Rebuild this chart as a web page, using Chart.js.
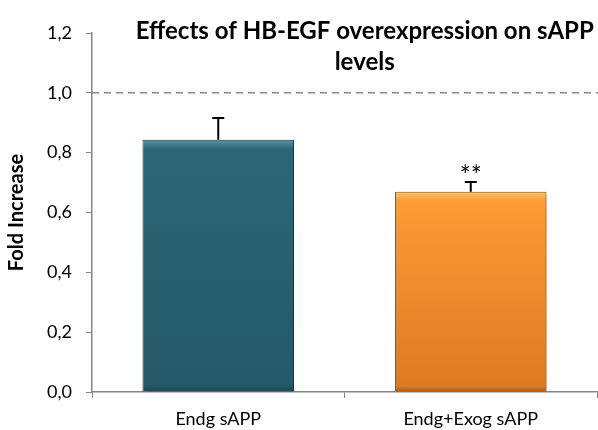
<!DOCTYPE html>
<html>
<head>
<meta charset="utf-8">
<script src="https://cdn.jsdelivr.net/npm/chart.js@4.4.1/dist/chart.umd.min.js"></script>
<style>
  html, body { margin: 0; padding: 0; background: #fff; }
  #wrap { width: 598px; height: 430px; position: relative; }
</style>
</head>
<body>
<div id="wrap"><canvas id="hbegfChart" width="598" height="430"></canvas></div>
<script>
// data
const categories = ['Endg sAPP', 'Endg+Exog sAPP'];
const foldIncrease = [0.843, 0.669];
const errorUp = [0.073, 0.033];
const significance = ['', '**'];
const yTicks = [0, 0.2, 0.4, 0.6, 0.8, 1.0, 1.2];
const referenceLevel = 1.0;
const titleLines = ['Effects of HB-EGF overexpression on sAPP', 'levels'];

const FONT = 'Lato, "Open Sans", sans-serif';

// bar palettes: [bevel top, body top, body bottom, border]
const palettes = [
  ['#5b95a4', '#2c6676', '#245a6a', '#1d4654'],
  ['#ffc46a', '#fd9b35', '#df7a24', '#a85a16']
];

function barFill(context) {
  const chart = context.chart;
  const area = chart.chartArea;
  const p = palettes[context.dataIndex];
  if (!area || context.raw == null) return p[1];
  const top = chart.scales.y.getPixelForValue(context.raw);
  const h = area.bottom - top;
  const g = chart.ctx.createLinearGradient(0, top, 0, area.bottom);
  const band = Math.min(0.08, 9 / h);
  g.addColorStop(0, p[0]);
  g.addColorStop(band, p[1]);
  g.addColorStop(0.97, p[2]);
  g.addColorStop(1, p[3]);
  return g;
}

const shadowPlugin = {
  id: 'barShadow',
  beforeDatasetsDraw(chart) {
    const ctx = chart.ctx;
    ctx.save();
    ctx.shadowColor = 'rgba(0,0,0,0.35)';
    ctx.shadowBlur = 5;
    ctx.shadowOffsetX = 2;
    ctx.shadowOffsetY = 2;
  },
  afterDatasetsDraw(chart) {
    chart.ctx.restore();
  }
};

const extrasPlugin = {
  id: 'extras',
  afterDatasetsDraw(chart) {
    const ctx = chart.ctx;
    const yScale = chart.scales.y;
    const area = chart.chartArea;
    const meta = chart.getDatasetMeta(0);

    // dashed reference line
    const yRef = yScale.getPixelForValue(referenceLevel);
    ctx.save();
    ctx.strokeStyle = '#8a8a8a';
    ctx.lineWidth = 1.5;
    ctx.setLineDash([7, 5]);
    ctx.beginPath();
    ctx.moveTo(area.left, yRef);
    ctx.lineTo(chart.width, yRef);
    ctx.stroke();
    ctx.restore();

    // error bars (upper only) + significance marks
    meta.data.forEach((bar, i) => {
      const yTop = yScale.getPixelForValue(foldIncrease[i]);
      const yErr = yScale.getPixelForValue(foldIncrease[i] + errorUp[i]);
      ctx.save();
      ctx.strokeStyle = '#000';
      ctx.lineWidth = 2;
      ctx.beginPath();
      ctx.moveTo(bar.x, yTop);
      ctx.lineTo(bar.x, yErr);
      ctx.moveTo(bar.x - 6, yErr);
      ctx.lineTo(bar.x + 6, yErr);
      ctx.stroke();
      if (significance[i]) {
        ctx.fillStyle = '#000';
        ctx.font = '26px ' + FONT;
        ctx.textAlign = 'center';
        ctx.textBaseline = 'alphabetic';
        ctx.fillText(significance[i], bar.x, yErr + 3);
      }
      ctx.restore();
    });
  },
  afterDraw(chart) {
    const ctx = chart.ctx;
    const area = chart.chartArea;
    ctx.save();
    ctx.fillStyle = '#000';
    ctx.font = 'bold 24px ' + FONT;
    ctx.textAlign = 'center';
    ctx.textBaseline = 'middle';
    const cx = area.left + area.width * 0.54;
    titleLines.forEach((line, i) => ctx.fillText(line, cx, 31 + i * 31));
    ctx.restore();
  }
};

new Chart(document.getElementById('hbegfChart'), {
  type: 'bar',
  data: {
    labels: categories,
    datasets: [{
      data: foldIncrease,
      backgroundColor: barFill,
      borderColor: palettes.map(p => p[3]),
      borderWidth: 1,
      categoryPercentage: 1,
      barPercentage: 0.6
    }]
  },
  options: {
    responsive: false,
    animation: false,
    devicePixelRatio: 1,
    layout: { padding: { left: 4, right: 1, top: 33, bottom: 0 } },
    plugins: {
      legend: { display: false },
      tooltip: { enabled: false },
      title: { display: false }
    },
    scales: {
      x: {
        grid: { display: true, drawOnChartArea: false, offset: true, color: '#868686', tickLength: 6 },
        border: { color: '#868686', width: 1.5 },
        ticks: { color: '#000', font: { family: FONT, size: 18 }, padding: 10 },
        afterFit(scale) { scale.height = 38; }
      },
      y: {
        min: 0,
        max: 1.2,
        afterBuildTicks(scale) { scale.ticks = yTicks.map(v => ({ value: v })); },
        grid: { display: true, drawOnChartArea: false, color: '#868686', tickLength: 6 },
        border: { color: '#868686', width: 1.5 },
        ticks: {
          color: '#000',
          font: { family: FONT, size: 18 },
          padding: 14,
          callback: v => v.toFixed(1).replace('.', ',')
        },
        title: {
          display: true,
          text: 'Fold Increase',
          color: '#000',
          font: { family: FONT, size: 20, weight: 'bold' },
          padding: { top: 1, bottom: 0 }
        },
        afterFit(scale) { scale.width = 88; }
      }
    }
  },
  plugins: [shadowPlugin, extrasPlugin]
});
</script>
</body>
</html>
